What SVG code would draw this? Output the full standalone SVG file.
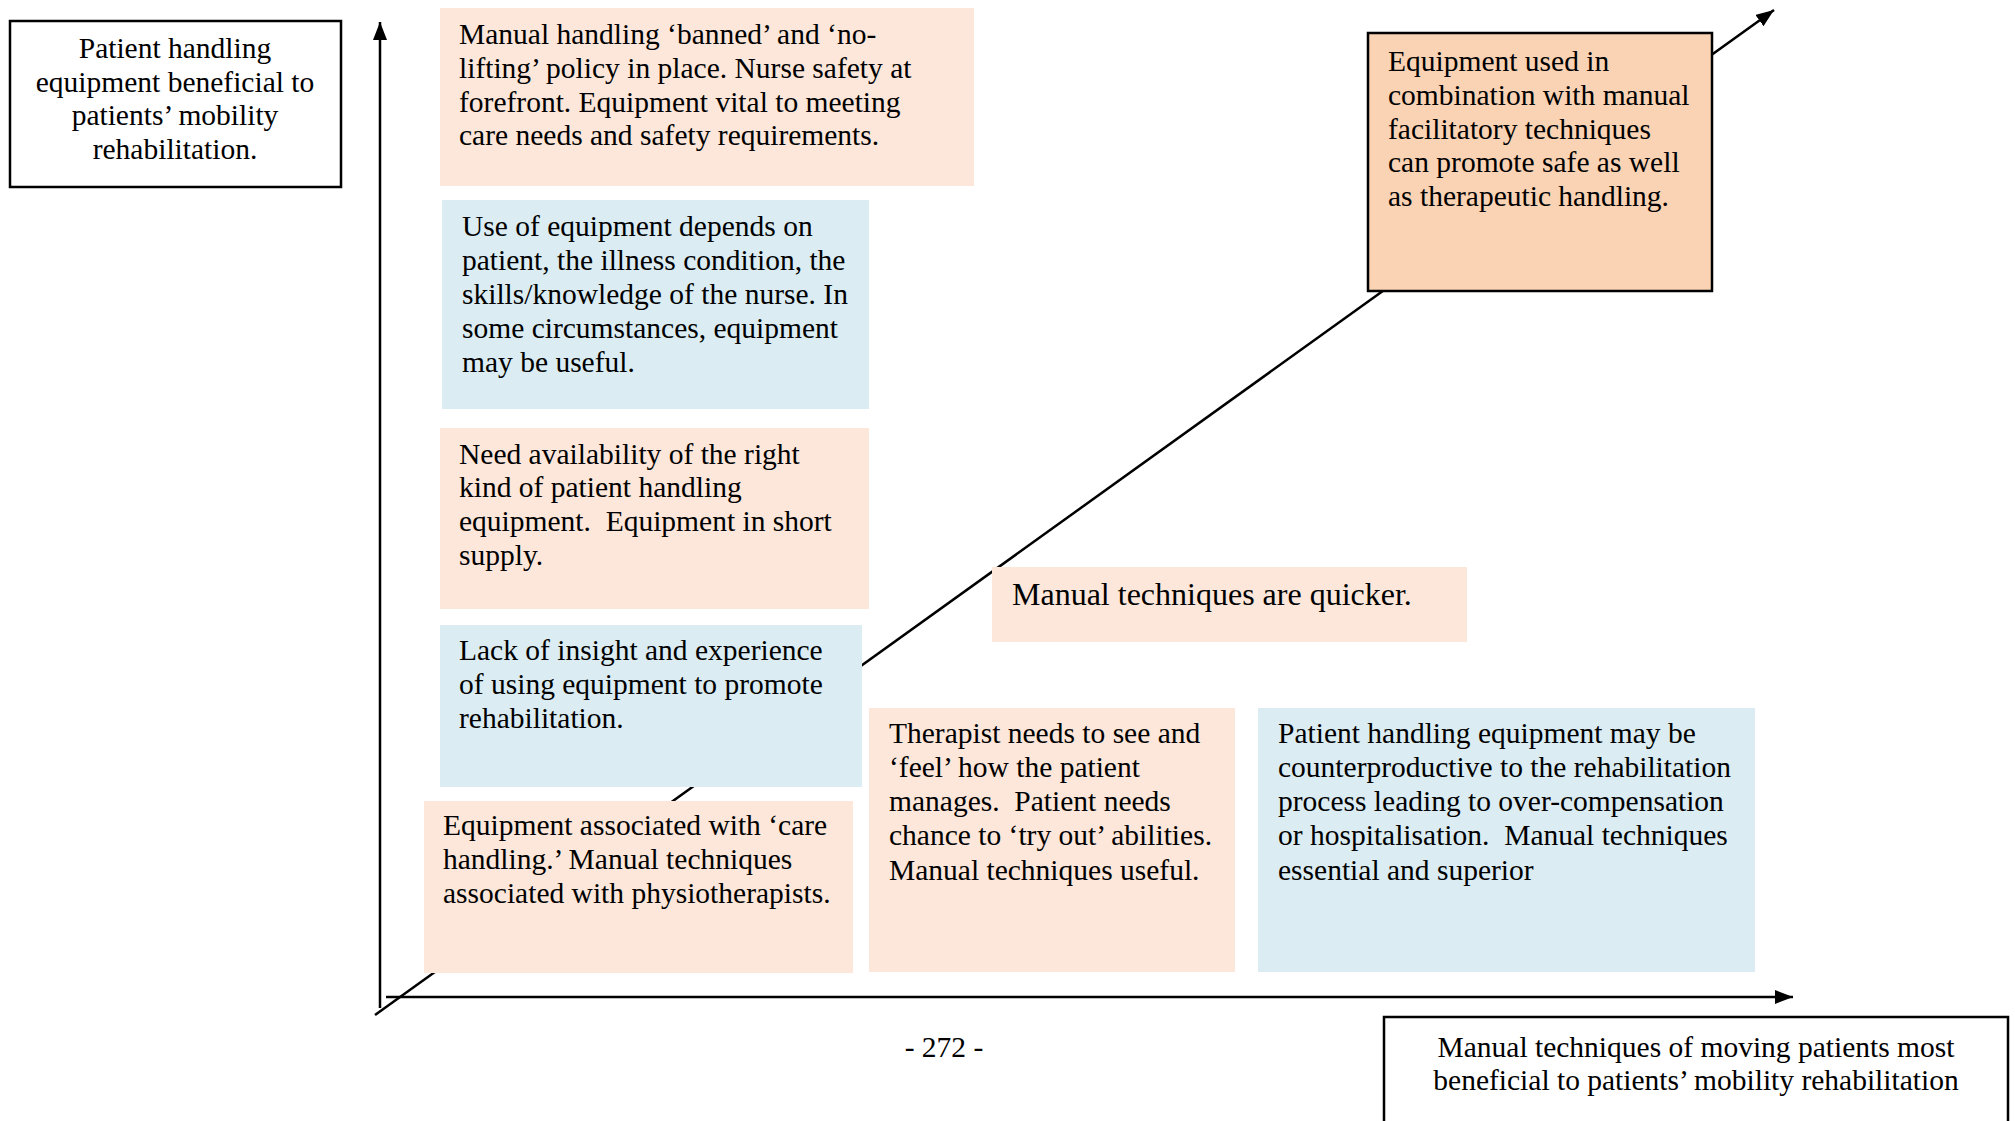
<svg xmlns="http://www.w3.org/2000/svg" width="2015" height="1121" viewBox="0 0 2015 1121">
  <style>
    text { font-family: "Liberation Serif", "Times New Roman", serif; font-size: 29.5px; fill: #000; }
    .peach { fill: #FCE7DA; }
    .blue { fill: #DBEDF3; }
    .dark { fill: #FAD3B4; stroke: #000; stroke-width: 2.5; }
    .frame { fill: #fff; stroke: #000; stroke-width: 2.5; }
    .mid { text-anchor: middle; }
    .axis { fill: none; stroke: #000; stroke-width: 2.5; }
  </style>
  <defs>
    <marker id="arrow" markerUnits="userSpaceOnUse" markerWidth="20" markerHeight="16" refX="18" refY="7" orient="auto">
      <path d="M0,0 L18,7 L0,14 Z" fill="#000"/>
    </marker>
  </defs>

  <rect width="2015" height="1121" fill="#fff"/>

  <!-- axes and the diagonal trend line -->
  <g id="connectors">
    <line class="axis" x1="380" y1="1008" x2="380" y2="22" marker-end="url(#arrow)"/>
    <line class="axis" x1="386" y1="997" x2="1793" y2="997" marker-end="url(#arrow)"/>
    <line class="axis" x1="375" y1="1015" x2="1774" y2="10" marker-end="url(#arrow)"/>
  </g>

  <!-- y-axis caption -->
  <g id="y-label">
    <rect class="frame" x="10" y="21" width="331" height="166"/>
    <text class="mid" x="175" y="58">Patient handling</text>
    <text class="mid" x="175" y="92">equipment beneficial to</text>
    <text class="mid" x="175" y="125">patients’ mobility</text>
    <text class="mid" x="175" y="159">rehabilitation.</text>
  </g>

  <!-- x-axis caption -->
  <g id="x-label">
    <rect class="frame" x="1384" y="1017" width="624" height="120"/>
    <text class="mid" x="1696" y="1057">Manual techniques of moving patients most</text>
    <text class="mid" x="1696" y="1090">beneficial to patients’ mobility rehabilitation</text>
  </g>

  <g id="no-lifting-policy">
    <rect class="peach" x="440" y="8" width="534" height="178"/>
    <text x="459" y="44">Manual handling ‘banned’ and ‘no-</text>
    <text x="459" y="78">lifting’ policy in place. Nurse safety at</text>
    <text x="459" y="112">forefront. Equipment vital to meeting</text>
    <text x="459" y="145">care needs and safety requirements.</text>
  </g>

  <g id="depends-on-patient">
    <rect class="blue" x="442" y="200" width="427" height="209"/>
    <text x="462" y="236">Use of equipment depends on</text>
    <text x="462" y="270">patient, the illness condition, the</text>
    <text x="462" y="304">skills/knowledge of the nurse. In</text>
    <text x="462" y="338">some circumstances, equipment</text>
    <text x="462" y="372">may be useful.</text>
  </g>

  <g id="availability">
    <rect class="peach" x="440" y="428" width="429" height="181"/>
    <text x="459" y="464">Need availability of the right</text>
    <text x="459" y="497">kind of patient handling</text>
    <text x="459" y="531">equipment.&#160; Equipment in short</text>
    <text x="459" y="565">supply.</text>
  </g>

  <g id="lack-of-insight">
    <rect class="blue" x="440" y="625" width="422" height="162"/>
    <text x="459" y="660">Lack of insight and experience</text>
    <text x="459" y="694">of using equipment to promote</text>
    <text x="459" y="728">rehabilitation.</text>
  </g>

  <g id="care-handling">
    <rect class="peach" x="424" y="801" width="429" height="172"/>
    <text x="443" y="835">Equipment associated with ‘care</text>
    <text x="443" y="869">handling.’ Manual techniques</text>
    <text x="443" y="903">associated with physiotherapists.</text>
  </g>

  <g id="therapist-needs">
    <rect class="peach" x="869" y="708" width="366" height="264"/>
    <text x="889" y="743">Therapist needs to see and</text>
    <text x="889" y="777">‘feel’ how the patient</text>
    <text x="889" y="811">manages.&#160; Patient needs</text>
    <text x="889" y="845">chance to ‘try out’ abilities.</text>
    <text x="889" y="880">Manual techniques useful.</text>
  </g>

  <g id="counterproductive">
    <rect class="blue" x="1258" y="708" width="497" height="264"/>
    <text x="1278" y="743">Patient handling equipment may be</text>
    <text x="1278" y="777">counterproductive to the rehabilitation</text>
    <text x="1278" y="811">process leading to over-compensation</text>
    <text x="1278" y="845">or hospitalisation.&#160; Manual techniques</text>
    <text x="1278" y="880">essential and superior</text>
  </g>

  <g id="quicker">
    <rect class="peach" x="992" y="567" width="475" height="75"/>
    <text x="1012" y="605" style="font-size:32px">Manual techniques are quicker.</text>
  </g>

  <g id="combination">
    <rect class="dark" x="1368" y="33" width="344" height="258"/>
    <text x="1388" y="71">Equipment used in</text>
    <text x="1388" y="105">combination with manual</text>
    <text x="1388" y="139">facilitatory techniques</text>
    <text x="1388" y="172">can promote safe as well</text>
    <text x="1388" y="206">as therapeutic handling.</text>
  </g>

  <!-- page number -->
  <text class="mid" x="944" y="1057">- 272 -</text>
</svg>
